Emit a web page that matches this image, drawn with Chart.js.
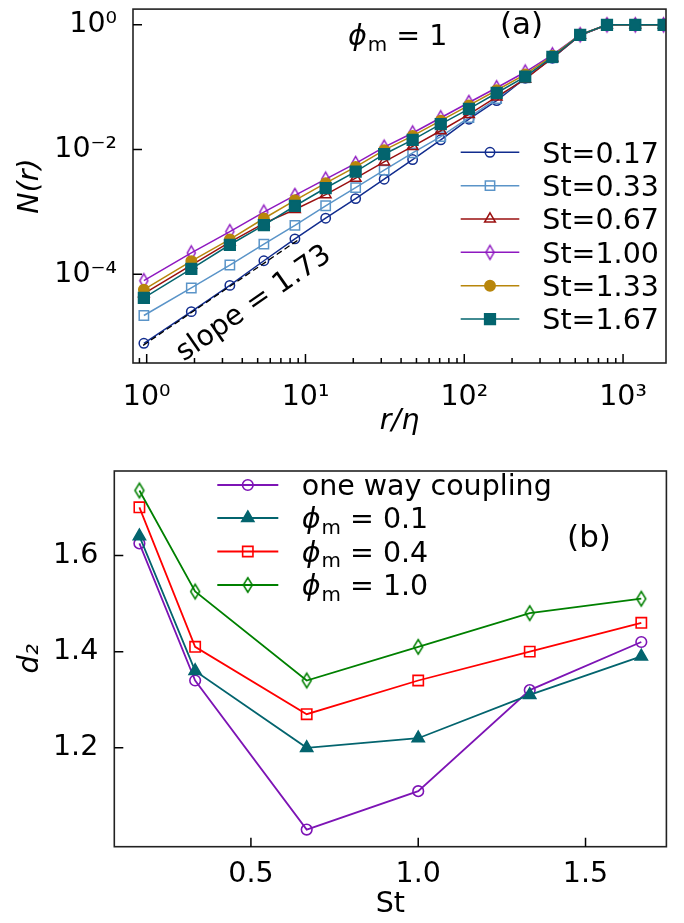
<!DOCTYPE html>
<html><head><meta charset="utf-8">
<script src="https://cdn.jsdelivr.net/npm/chart.js@4.4.1/dist/chart.umd.min.js"></script>
<style>
html,body{margin:0;padding:0;background:#fff;}
#wrap{position:relative;width:684px;height:923px;overflow:hidden;background:#fff;}
#c1{position:absolute;left:0;top:0;width:684px;height:445px;}
#c2{position:absolute;left:0;top:445px;width:684px;height:478px;}
</style></head>
<body><div id="wrap"><canvas id="c1" width="684" height="445"></canvas><canvas id="c2" width="684" height="478"></canvas></div>
<script>
// ---------- DATA: panel (a) ----------
const rOverEta = [0.96, 1.91, 3.34, 5.47, 8.58, 13.4, 20.7, 31.3, 47.3, 71.1, 107, 160, 242, 359, 537, 792, 1194, 1800];
const N_St017 = [7.76e-6, 2.50e-5, 6.6e-5, 1.64e-4, 3.68e-4, 7.9e-4, 1.63e-3, 3.34e-3, 6.9e-3, 1.43e-2, 3.06e-2, 6.1e-2, 0.139, 0.291, 0.683, 1, 1, 1];
const N_St033 = [2.17e-5, 6.0e-5, 1.40e-4, 3.04e-4, 6.05e-4, 1.25e-3, 2.45e-3, 4.68e-3, 8.81e-3, 1.61e-2, 3.26e-2, 6.56e-2, 0.141, 0.296, 0.683, 1, 1, 1];
const N_St067 = [4.85e-5, 1.40e-4, 3.27e-4, 6.52e-4, 1.09e-3, 1.89e-3, 3.46e-3, 6.35e-3, 1.12e-2, 2.00e-2, 3.67e-2, 6.98e-2, 0.134, 0.296, 0.683, 1, 1, 1];
const N_St100 = [7.84e-5, 2.19e-4, 4.82e-4, 9.89e-4, 1.83e-3, 3.34e-3, 5.97e-3, 1.09e-2, 1.84e-2, 3.23e-2, 5.68e-2, 9.79e-2, 0.175, 0.330, 0.695, 1, 1, 1];
const N_St133 = [5.65e-5, 1.62e-4, 3.60e-4, 7.81e-4, 1.53e-3, 2.89e-3, 5.26e-3, 9.75e-3, 1.65e-2, 2.90e-2, 5.09e-2, 8.93e-2, 0.160, 0.319, 0.695, 1, 1, 1];
const N_St167 = [4.17e-5, 1.21e-4, 2.96e-4, 6.12e-4, 1.24e-3, 2.41e-3, 4.42e-3, 8.4e-3, 1.43e-2, 2.55e-2, 4.5e-2, 8.07e-2, 0.1475, 0.305, 0.69, 1, 1, 1];
const stLabels = ['St=0.17', 'St=0.33', 'St=0.67', 'St=1.00', 'St=1.33', 'St=1.67'];
const slopeLineX = [0.95, 9.2];
const slopeLineY = [7.2e-6, 3.68e-4];
const xTicksA = [1, 10, 100, 1000];
const yTicksA = [1e-4, 1e-2, 1];

// ---------- DATA: panel (b) ----------
const St = [0.1667, 0.3333, 0.6667, 1.0, 1.3333, 1.6667];
const d2_oneWay = [1.625, 1.34, 1.03, 1.11, 1.32, 1.42];
const d2_phi01 = [1.64, 1.36, 1.20, 1.22, 1.31, 1.39];
const d2_phi04 = [1.70, 1.41, 1.27, 1.34, 1.40, 1.46];
const d2_phi10 = [1.735, 1.525, 1.34, 1.41, 1.48, 1.51];
const legendB = ['one way coupling', 'ϕm = 0.1', 'ϕm = 0.4', 'ϕm = 1.0'];
const xTicksB = [0.5, 1.0, 1.5];
const yTicksB = [1.2, 1.4, 1.6];

// ---------- styling ----------
const FAM = '"DejaVu Sans", sans-serif';
const FS = 28.5;
const FS_TAG = 31;
const SUP = {'0':'⁰','1':'¹','2':'²','3':'³','4':'⁴','5':'⁵','6':'⁶','7':'⁷','8':'⁸','9':'⁹','-':'⁻'};
function powLabel(v){ const e = Math.round(Math.log10(v)); return '10' + String(e).split('').map(c=>SUP[c]).join(''); }

function thinDiamond(color, h, w, lw){
  const c = document.createElement('canvas');
  const W = Math.ceil(w + lw*2 + 2), H = Math.ceil(h + lw*2 + 2);
  c.width = W; c.height = H;
  const g = c.getContext('2d');
  g.strokeStyle = color; g.lineWidth = lw; g.lineJoin = 'miter';
  g.beginPath(); g.moveTo(W/2, H/2-h/2); g.lineTo(W/2+w/2, H/2); g.lineTo(W/2, H/2+h/2); g.lineTo(W/2-w/2, H/2); g.closePath(); g.stroke();
  return c;
}

const colA = ['#112c8e', '#5a94c8', '#9a0f0f', '#8e18c0', '#b8860b', '#03646e'];
const mkA = [
  {pointStyle:'circle', pointRadius:4.7, fill:false},
  {pointStyle:'rect', pointRadius:6.6, fill:false},
  {pointStyle:'triangle', pointRadius:6.2, fill:false},
  {pointStyle:thinDiamond(colA[3], 14, 8, 1.5), pointRadius:6, fill:false},
  {pointStyle:'circle', pointRadius:5.2, fill:true},
  {pointStyle:'rect', pointRadius:7.6, fill:true}
];
const seriesA = [N_St017, N_St033, N_St067, N_St100, N_St133, N_St167];

const dsA = seriesA.map((arr, i) => ({
  label: stLabels[i],
  data: rOverEta.map((r, j) => ({x: r, y: arr[j]})),
  borderColor: colA[i], borderWidth: 1.5,
  pointStyle: mkA[i].pointStyle, pointRadius: mkA[i].pointRadius,
  pointBorderColor: colA[i], pointBorderWidth: 1.5,
  pointBackgroundColor: mkA[i].fill ? colA[i] : 'rgba(0,0,0,0)',
  tension: 0, fill: false, order: -i, legend: true
}));
dsA.push({
  label: 'slope', data: slopeLineX.map((x, j) => ({x, y: slopeLineY[j]})),
  borderColor: '#000', borderWidth: 1.3, borderDash: [6, 3.5], pointRadius: 0, tension: 0, fill: false, order: -7, legend: false
});

function drawLegendRow(ctx, ds, x1, x2, y, txtX, text, phi){
  ctx.save();
  ctx.strokeStyle = ds.borderColor; ctx.lineWidth = ds.borderWidth; ctx.setLineDash([]);
  ctx.beginPath(); ctx.moveTo(x1, y); ctx.lineTo(x2, y); ctx.stroke();
  ctx.fillStyle = ds.pointBackgroundColor; ctx.strokeStyle = ds.pointBorderColor; ctx.lineWidth = ds.pointBorderWidth;
  Chart.helpers.drawPoint(ctx, {pointStyle: ds.pointStyle, radius: ds.pointRadius, borderWidth: ds.pointBorderWidth, rotation: 0}, (x1+x2)/2, y);
  ctx.fillStyle = '#000'; ctx.textBaseline = 'alphabetic'; ctx.textAlign = 'left';
  const base = y + 0.36*FS;
  if (phi) drawPhiText(ctx, txtX, base, text, FS);
  else { ctx.font = `${FS}px ${FAM}`; ctx.fillText(text, txtX, base); }
  ctx.restore();
}
function drawPhiText(ctx, x, y, text, fs){
  const rest = text.slice(2);
  ctx.textAlign = 'left'; ctx.textBaseline = 'alphabetic';
  ctx.font = `italic ${fs}px ${FAM}`;
  ctx.fillText('ϕ', x, y); x += ctx.measureText('ϕ').width + 1;
  ctx.font = `${fs*0.7}px ${FAM}`;
  ctx.fillText('m', x, y + fs*0.2); x += ctx.measureText('m').width;
  ctx.font = `${fs}px ${FAM}`;
  ctx.fillText(rest, x, y);
}

function frameAndTicks(chart, minorX){
  const ctx = chart.ctx, a = chart.chartArea, xs = chart.scales.x, ys = chart.scales.y;
  ctx.save();
  ctx.strokeStyle = '#222'; ctx.lineWidth = 1.6; ctx.setLineDash([]);
  ctx.strokeRect(a.left, a.top, a.right - a.left, a.bottom - a.top);
  ctx.strokeStyle = '#000'; ctx.lineWidth = 1.5;
  ctx.beginPath();
  xs.ticks.forEach(t => { const p = xs.getPixelForValue(t.value); ctx.moveTo(p, a.bottom); ctx.lineTo(p, a.bottom - 9); });
  ys.ticks.forEach(t => { const p = ys.getPixelForValue(t.value); ctx.moveTo(a.left, p); ctx.lineTo(a.left + 9, p); });
  if (minorX) {
    for (let e = -1; e <= 3; e++) for (let m = 2; m <= 9; m++) {
      const v = m * Math.pow(10, e);
      if (v < xs.min || v > xs.max) continue;
      const p = xs.getPixelForValue(v);
      ctx.moveTo(p, a.bottom); ctx.lineTo(p, a.bottom - 5);
    }
  }
  ctx.stroke();
  ctx.restore();
}

function fixX(h){ return s => { s.height = h; s.paddingLeft = 0; s.paddingRight = 0; s.paddingTop = 0; s.paddingBottom = 0; }; }
function fixY(w){ return s => { s.width = w; s.paddingLeft = 0; s.paddingRight = 0; s.paddingTop = 0; s.paddingBottom = 0; }; }

const plugA = {
  id: 'decorA',
  afterDraw(chart){
    const ctx = chart.ctx;
    frameAndTicks(chart, true);
    chart.data.datasets.filter(d => d.legend).forEach((ds, i) => {
      drawLegendRow(ctx, ds, 460.7, 519.3, 152.3 + 33.35*i, 542.3, ds.label, false);
    });
    ctx.save();
    ctx.fillStyle = '#000';
    ctx.font = `${FS_TAG}px ${FAM}`; ctx.textAlign = 'center'; ctx.textBaseline = 'alphabetic';
    ctx.fillText('(a)', 521.5, 34);
    drawPhiText(ctx, 348, 45, 'ϕm = 1', FS);
    ctx.translate(254, 304); ctx.rotate(-34.7 * Math.PI / 180);
    ctx.font = `${FS}px ${FAM}`; ctx.textAlign = 'center'; ctx.textBaseline = 'middle';
    ctx.fillText('slope = 1.73', 0, 0);
    ctx.restore();
  }
};

new Chart(document.getElementById('c1'), {
  type: 'line',
  data: { datasets: dsA },
  options: {
    responsive: false, animation: false, devicePixelRatio: 1,
    layout: { padding: { left: 0, right: 18, top: 3, bottom: 0 } },
    plugins: { legend: { display: false }, tooltip: { enabled: false } },
    scales: {
      x: {
        type: 'logarithmic', position: 'bottom', min: 0.82, max: 1864, bounds: 'data',
        grid: { display: false }, border: { display: false },
        afterBuildTicks: s => { s.ticks = xTicksA.map(v => ({ value: v })); },
        afterFit: fixX(445 - 363),
        ticks: { callback: v => powLabel(v), font: { family: FAM, size: FS }, color: '#000', padding: 9, maxRotation: 0, autoSkip: false },
        title: { display: true, text: 'r/η', font: { family: FAM, size: FS, style: 'italic' }, color: '#000', padding: { top: 0, bottom: 6 } }
      },
      y: {
        type: 'logarithmic', position: 'left', min: 3.75e-6, max: 1.79, bounds: 'data',
        grid: { display: false }, border: { display: false },
        afterBuildTicks: s => { s.ticks = yTicksA.map(v => ({ value: v })); },
        afterFit: fixY(133),
        ticks: { callback: v => powLabel(v), font: { family: FAM, size: FS }, color: '#000', padding: 8, autoSkip: false },
        title: { display: true, text: 'N(r)', font: { family: FAM, size: FS, style: 'italic' }, color: '#000', padding: { top: 13, bottom: 0 } }
      }
    }
  },
  plugins: [plugA]
});

// ---------- panel (b) ----------
const colB = ['#7d14b5', '#03646e', '#ff0000', '#008000'];
const mkB = [
  {pointStyle:'circle', pointRadius:5.3, fill:false},
  {pointStyle:'triangle', pointRadius:7, fill:true},
  {pointStyle:'rect', pointRadius:7.3, fill:false},
  {pointStyle:thinDiamond(colB[3], 14.5, 9, 1.5), pointRadius:6, fill:false}
];
const seriesB = [d2_oneWay, d2_phi01, d2_phi04, d2_phi10];
const dsB = seriesB.map((arr, i) => ({
  label: legendB[i],
  data: St.map((s, j) => ({x: s, y: arr[j]})),
  borderColor: colB[i], borderWidth: 1.8,
  pointStyle: mkB[i].pointStyle, pointRadius: mkB[i].pointRadius,
  pointBorderColor: colB[i], pointBorderWidth: 1.6,
  pointBackgroundColor: mkB[i].fill ? colB[i] : 'rgba(0,0,0,0)',
  tension: 0, fill: false, order: -i, legend: true
}));

const plugB = {
  id: 'decorB',
  afterDraw(chart){
    const ctx = chart.ctx;
    frameAndTicks(chart, false);
    const rows = [40, 73, 106.5, 140];
    chart.data.datasets.forEach((ds, i) => {
      drawLegendRow(ctx, ds, 217.3, 278.3, rows[i], 301.7, ds.label, i > 0);
    });
    ctx.save();
    ctx.fillStyle = '#000';
    ctx.font = `${FS_TAG}px ${FAM}`; ctx.textAlign = 'center'; ctx.textBaseline = 'alphabetic';
    ctx.fillText('(b)', 589, 102);
    ctx.restore();
  }
};

new Chart(document.getElementById('c2'), {
  type: 'line',
  data: { datasets: dsB },
  options: {
    responsive: false, animation: false, devicePixelRatio: 1,
    layout: { padding: { left: 0, right: 17.6, top: 26, bottom: 0 } },
    plugins: { legend: { display: false }, tooltip: { enabled: false } },
    scales: {
      x: {
        type: 'linear', position: 'bottom', min: 0.0917, max: 1.7417, bounds: 'data',
        grid: { display: false }, border: { display: false },
        afterBuildTicks: s => { s.ticks = xTicksB.map(v => ({ value: v })); },
        afterFit: fixX(478 - 401.7),
        ticks: { callback: v => v.toFixed(1), font: { family: FAM, size: FS }, color: '#000', padding: 3.2, maxRotation: 0, autoSkip: false },
        title: { display: true, text: 'St', font: { family: FAM, size: FS }, color: '#000', padding: { top: 0, bottom: 1 } }
      },
      y: {
        type: 'linear', position: 'left', min: 0.9945, max: 1.7755, bounds: 'data',
        grid: { display: false }, border: { display: false },
        afterBuildTicks: s => { s.ticks = yTicksB.map(v => ({ value: v })); },
        afterFit: fixY(114.3),
        ticks: { callback: v => v.toFixed(1), font: { family: FAM, size: FS }, color: '#000', padding: 8, autoSkip: false },
        title: { display: true, text: 'd₂', font: { family: FAM, size: FS, style: 'italic' }, color: '#000', padding: { top: 13, bottom: 0 } }
      }
    }
  },
  plugins: [plugB]
});
</script>
</body></html>
